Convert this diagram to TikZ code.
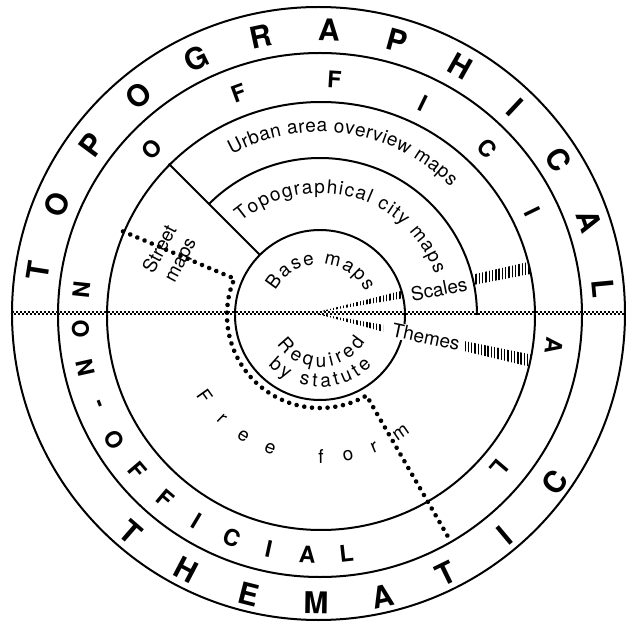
\documentclass[tikz,border=0pt]{standalone}
\usepackage{fontspec}
\setmainfont{TeX Gyre Heros}
\usetikzlibrary{decorations.text,decorations.markings}
\newcommand\lblfont{\fontsize{19}{19}\selectfont}
\begin{document}
\begin{tikzpicture}[x=1pt,y=1pt,
  ring/.style={line width=2pt},
  dotline/.style={decoration={markings, mark=between positions 0 and 1 step 7.8pt with {\fill (0,0) circle (2.3pt);}}, decorate},
  hatchline/.style={line width=1.4pt},
  big/.style={font=\fontsize{30}{30}\selectfont\bfseries, inner sep=0pt},
  mid/.style={font=\fontsize{23}{23}\selectfont\bfseries, inner sep=0pt},
  lbl/.style={font=\fontsize{19}{23}\selectfont, inner sep=1pt},
  curved/.style={decorate, decoration={text along path, text align={fit to path}, text={|\lblfont|#1}}}
]
\useasboundingbox (-320,-314) rectangle (305,315);

% horizontal checkered line
\draw[line width=2pt, dash pattern=on 2pt off 2pt] (-308,3) -- (305,3);
\draw[line width=2pt, dash pattern=on 2pt off 2pt, dash phase=2pt] (-308,1) -- (305,1);

% circles
\draw[ring] (-1.5,1.5) circle (306.5);
\draw[ring] (0,0) circle (262);
\draw[ring] (1,-1) circle (214);
\draw[ring] (0,0) circle (85);
\draw[ring] (135:157) arc (135:0:157);
\draw[line width=1.8pt] (135:85) -- (135:214);

% dotted boundary
\path[dotline] (157:214) -- (157:93) arc (157:300:93) -- (300:258);

% hatched wedges
\begin{scope}
  \clip (-6,2) -- (84,24.8) -- (225,56.8) -- (225,43.8) -- (84,16.8) -- cycle;
  \begin{scope}
    \clip (0,0) circle (85);
    \foreach \x in {-6,-2.7,...,84} \draw[hatchline] (\x,-10) -- (\x,70);
  \end{scope}
  \begin{scope}
    \clip (1,-1) circle (214);
    \foreach \x in {156,159.3,...,226} \draw[hatchline] (\x,-10) -- (\x,70);
  \end{scope}
\end{scope}
\begin{scope}
  \clip (-6,2) -- (63,-9.7) -- (225,-42.3) -- (225,-55.3) -- (63,-16.7) -- cycle;
  \begin{scope}
    \clip (-10,-100) rectangle (63,100);
    \foreach \x in {-6,-2.7,...,64} \draw[hatchline] (\x,-70) -- (\x,10);
  \end{scope}
  \begin{scope}
    \clip (1,-1) circle (214);
    \clip (145,-100) rectangle (230,100);
    \foreach \x in {145,148.3,...,226} \draw[hatchline] (\x,-70) -- (\x,10);
  \end{scope}
\end{scope}

% small labels
\node[lbl, rotate=11] (scales) at (119,26) {Scales};
\node[lbl, rotate=-12, fill=white] (themes) at (106,-22) {Themes};
\node[lbl, rotate=62, align=center] (street) at (-149,60) {Street\\maps};

\path[curved={Urban area overview maps}] (118.8:183) arc (118.8:44.5:183);
\path[curved={Topographical city maps}] (130.4:122) arc (130.4:19.5:122);
\path[curved={Base maps}] (151:51) arc (151:27:51);
\path[curved={Required}] (214:52) arc (214:329.5:52);
\path[curved={by statute}] (224:72) arc (224:316:72);
\path[curved={Free form}] (212.9:148) arc (212.9:307.6:148);

% big ring letters
\foreach \c/\a [count=\i] in {T/171,O/157.2,P/143.4,O/129.6,G/115.8,R/102,A/88.2,P/74.4,H/60.6,I/46.8,C/33,A/19.2,L/5.4}
  \node[big, rotate=\a-90] (topo\i) at (\a:285) {\c};
\foreach \c/\a [count=\i] in {T/229,H/242.4,E/255.8,M/269.2,A/282.6,T/296,I/310,C/324.5}
  \node[big, rotate=\a+90] (them\i) at (\a:288) {\c};
\foreach \c/\a [count=\i] in {O/135.3,F/110.2,F/86.5,I/64,C/45,I/26,A/-7.6,L/-40.4}
  \node[mid, rotate=\a-90] (off\i) at (\a:236) {\c};
\foreach \c/\a [count=\i] in {N/174,O/183.3,N/192.6,-/201.9,O/211.2,F/220.5,F/229.8,I/239.1,C/248.4,I/257.7,A/267,L/276.3}
  \node[mid, rotate=\a+90] (non\i) at (\a:240) {\c};
\end{tikzpicture}
\end{document}
